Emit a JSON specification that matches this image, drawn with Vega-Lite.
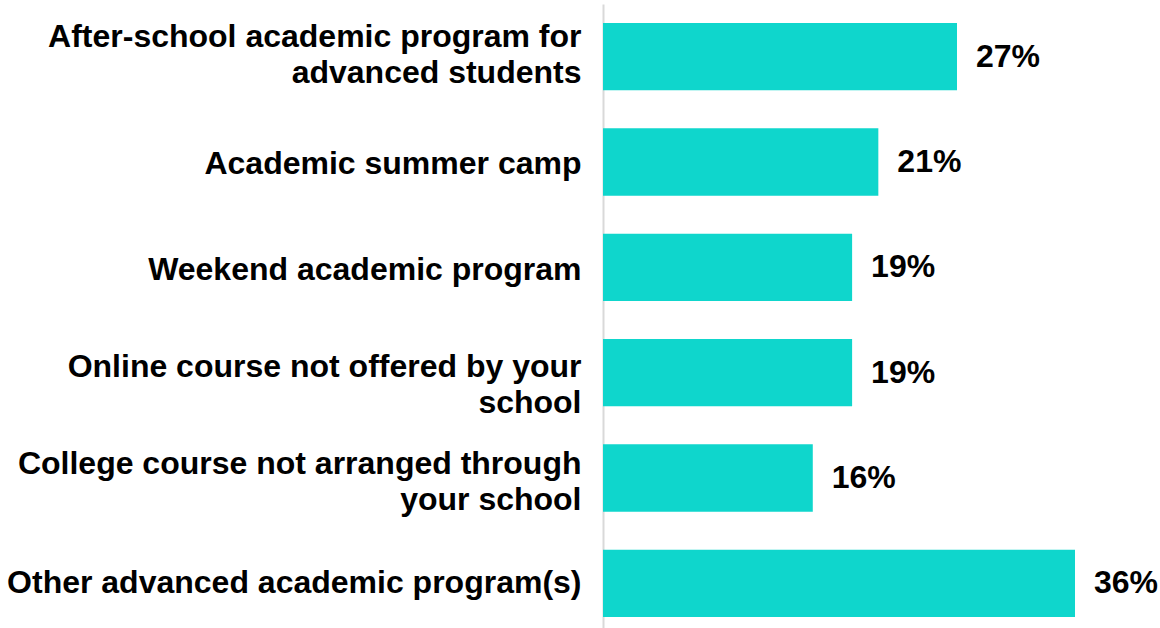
{
  "$schema": "https://vega.github.io/schema/vega-lite/v6.json",
  "autosize": {"type": "none"},
  "width": 472,
  "height": 632,
  "padding": {"left": 603, "top": 4, "right": 85, "bottom": 0},
  "background": "white",
  "config": {"view": {"stroke": null}},
  "data": {
    "values": [
      {"program": "After-school academic program for|advanced students", "pct": 0.27},
      {"program": "Academic summer camp", "pct": 0.21},
      {"program": "Weekend academic program", "pct": 0.19},
      {"program": "Online course not offered by your|school", "pct": 0.19},
      {"program": "College course not arranged through|your school", "pct": 0.16},
      {"program": "Other advanced academic program(s)", "pct": 0.36}
    ]
  },
  "encoding": {
    "y": {
      "field": "program",
      "type": "nominal",
      "sort": null,
      "scale": {"paddingInner": 0.36, "paddingOuter": 0.18},
      "axis": {
        "title": null,
        "ticks": false,
        "domain": true,
        "domainColor": "#d9d9d9",
        "domainWidth": 2,
        "labelExpr": "split(datum.label, '|')",
        "labelFont": "Liberation Sans",
        "labelFontWeight": "bold",
        "labelFontSize": 32,
        "labelLineHeight": 36,
        "labelColor": "#000000",
        "labelPadding": 22,
        "labelAlign": "right",
        "labelBaseline": "middle",
        "labelOffset": {
          "condition": [
            {"test": "indexof(datum.value, 'After') == 0", "value": -19.5},
            {"test": "indexof(datum.value, 'Online') == 0", "value": -6},
            {"test": "indexof(datum.value, 'College') == 0", "value": -14},
            {"test": "indexof(datum.value, 'Academic') == 0", "value": 2},
            {"test": "indexof(datum.value, 'Weekend') == 0", "value": 3}
          ],
          "value": 0
        },
        "labelLimit": 0
      }
    },
    "x": {
      "field": "pct",
      "type": "quantitative",
      "scale": {"domain": [0, 0.36]},
      "axis": null
    }
  },
  "layer": [
    {"mark": {"type": "bar", "color": "#0FD6CC"}},
    {
      "mark": {
        "type": "text",
        "align": "left",
        "baseline": "middle",
        "dx": 19,
        "font": "Liberation Sans",
        "fontWeight": "bold",
        "fontSize": 32,
        "color": "#000000"
      },
      "encoding": {"text": {"field": "pct", "type": "quantitative", "format": ".0%"}}
    }
  ]
}
